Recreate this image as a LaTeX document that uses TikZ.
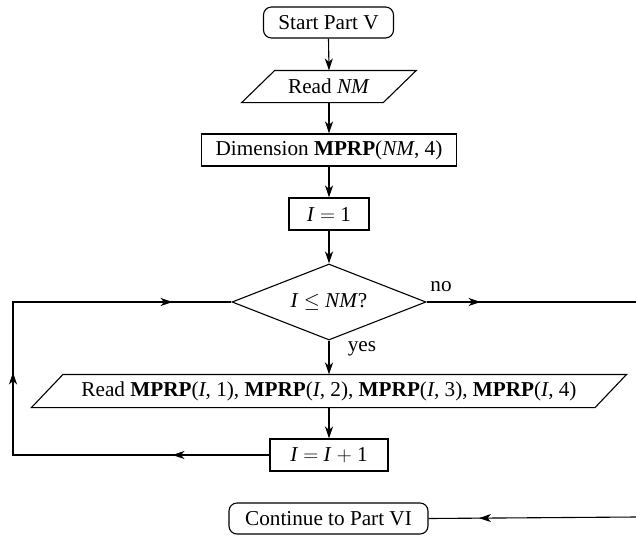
\documentclass[tikz,border=0pt]{standalone}
\usepackage{fontspec}
\setmainfont{Liberation Serif}
\usetikzlibrary{arrows.meta,calc,shapes.geometric,decorations.markings}
\newcommand\headtip{\arrow{Stealth[length=12pt,width=8pt,inset=3.5pt]}}
\begin{document}
\begin{tikzpicture}[x=1pt,y=-1pt,line width=1.1pt,
  every node/.style={font=\fontsize{21.2}{25}\selectfont},
  box/.style={draw,minimum height=32pt,inner sep=0pt},
  term/.style={box,rounded corners=8pt},
  iobox/.style={minimum height=31pt,inner sep=0pt},
  tip/.style={-{Stealth[length=12pt,width=8pt,inset=3.5pt]}},
  lbl/.style={inner sep=0pt}]
\useasboundingbox (0,0) rectangle (636,536);

% main column
\node[term,minimum width=130pt,minimum height=31pt] (start) at (328.5,22.5) {Start Part V};
\node[iobox,minimum width=140.5pt] (rnm) at (329,86.5) {Read \textit{NM}};
\draw ($(rnm.north west)+(16.5,0)$) -- ($(rnm.north east)+(16.5,0)$)
  -- ($(rnm.south east)+(-16.5,0)$) -- ($(rnm.south west)+(-16.5,0)$) -- cycle;
\node[box,minimum width=255pt] (dim) at (329,150) {Dimension \textbf{MPRP}(\textit{NM}, 4)};
\node[box,minimum width=80pt] (i1) at (329,214) {\textit{I} $=$ 1};
\node[diamond,draw,aspect=2.55,minimum width=194pt,minimum height=76pt,inner sep=0pt] (test) at (329,302) {\textit{I} $\leq$ \textit{NM}?};
\node[iobox,minimum width=562.5pt,minimum height=32pt] (rmp) at (329,391)
  {Read \textbf{MPRP}(\textit{I}, 1), \textbf{MPRP}(\textit{I}, 2), \textbf{MPRP}(\textit{I}, 3), \textbf{MPRP}(\textit{I}, 4)};
\draw ($(rmp.north west)+(15.75,0)$) -- ($(rmp.north east)+(15.75,0)$)
  -- ($(rmp.south east)+(-15.75,0)$) -- ($(rmp.south west)+(-15.75,0)$) -- cycle;
\node[box,minimum width=118pt] (inc) at (329,455) {\textit{I} $=$ \textit{I} $+$ 1};
\node[term,minimum width=199pt,minimum height=31pt] (cont) at (328.5,518.5) {Continue to Part VI};

% branch labels
\node[lbl] (no) at (441,287) {no};
\node[lbl] (yes) at (362,349) {yes};

% free ends of the outgoing and incoming lines
\coordinate (noend) at (636,302);
\coordinate (contin) at (636,517);
\coordinate (lb) at (13,455);
\coordinate (lt) at (13,302);

% connectors
\draw[tip] (start.south) -- (rnm.north);
\draw[tip] (rnm.south) -- (dim.north);
\draw[tip] (dim.south) -- (i1.north);
\draw[tip] (i1.south) -- (test.north);
\draw[tip] (test.south) -- (rmp.north);
\draw[tip] (rmp.south) -- (inc.north);
\draw[postaction={decorate},decoration={markings,mark=at position 54pt with {\headtip}}]
  (test.east) -- (noend);
\draw[postaction={decorate},decoration={markings,
    mark=at position 97pt with {\headtip},
    mark=at position 339pt with {\headtip},
    mark=at position 569pt with {\headtip}}]
  (inc.west) -- (lb) -- (lt) -- (test.west);
\draw[postaction={decorate},decoration={markings,mark=at position 157pt with {\headtip}}]
  (contin) -- (cont.east);
\end{tikzpicture}
\end{document}
